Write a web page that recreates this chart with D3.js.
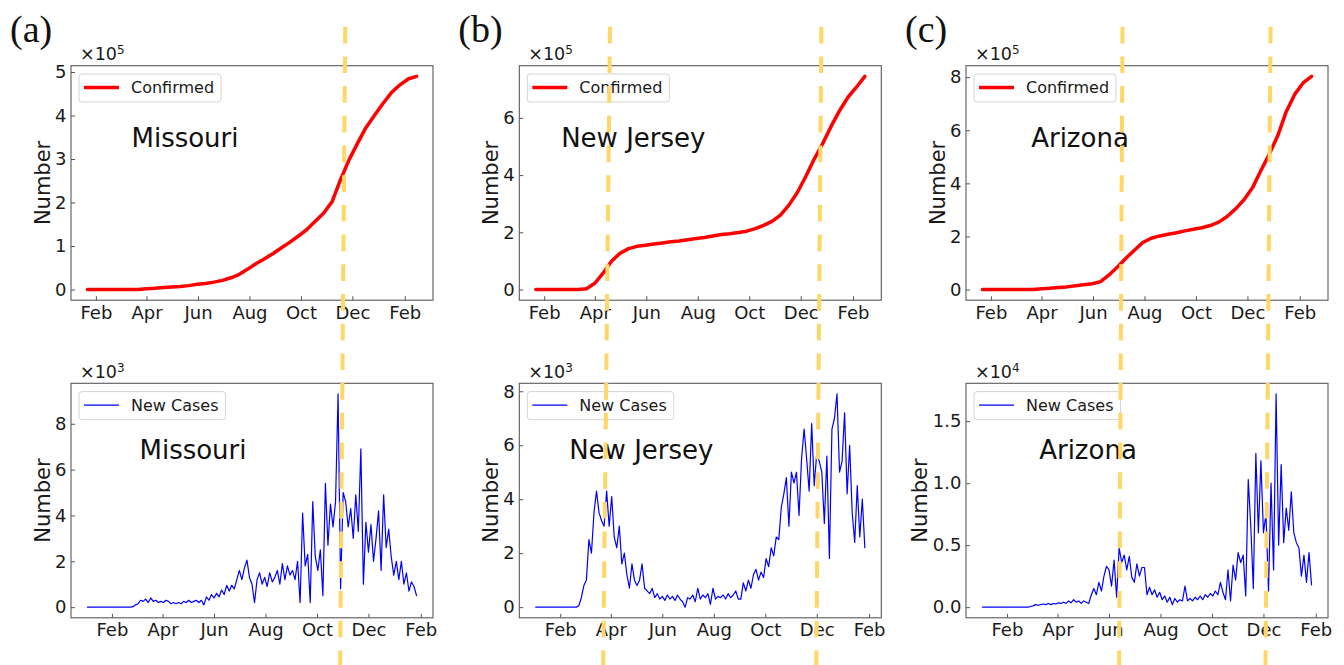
<!DOCTYPE html>
<html>
<head>
<meta charset="utf-8">
<script src="https://cdn.jsdelivr.net/npm/d3@7"></script>
<style>
  body { margin: 0; background: #fff; }
  svg { display: block; }
</style>
</head>
<body>
<div id="chart"></div>
<script>
// States, one per column
const states = ["Missouri", "New Jersey", "Arizona"];
const panelTags = ["(a)", "(b)", "(c)"];

// Confirmed cases (x1e5), every 10 days from 2020-01-22
const confirmedMO = [0, 0, 0, 0, 0, 0, 0, 0.02, 0.03, 0.045,
  0.06, 0.07, 0.09, 0.12, 0.14, 0.17, 0.21, 0.27, 0.35, 0.47,
  0.6, 0.71, 0.83, 0.96, 1.09, 1.23, 1.38, 1.57, 1.76, 2.02,
  2.53, 2.98, 3.36, 3.72, 4.0, 4.27, 4.52, 4.7, 4.84, 4.9];
const confirmedNJ = [0, 0, 0, 0, 0, 0, 0.03, 0.22, 0.58, 1.0,
  1.27, 1.43, 1.51, 1.55, 1.59, 1.63, 1.67, 1.7, 1.74, 1.78,
  1.82, 1.87, 1.92, 1.95, 1.99, 2.04, 2.13, 2.24, 2.38, 2.6,
  2.95, 3.39, 3.95, 4.56, 5.1, 5.7, 6.25, 6.72, 7.07, 7.45];
const confirmedAZ = [0, 0, 0, 0, 0, 0, 0.005, 0.03, 0.05, 0.08,
  0.1, 0.14, 0.18, 0.22, 0.3, 0.55, 0.85, 1.18, 1.48, 1.77,
  1.93, 2.02, 2.08, 2.14, 2.21, 2.27, 2.33, 2.41, 2.54, 2.75,
  3.04, 3.38, 3.83, 4.48, 5.1, 5.8, 6.7, 7.35, 7.78, 8.03];

// New cases, every 3 days from 2020-01-03 (MO, NJ in x1e3; AZ in x1e4)
const newMO = [0, 0, 0, 0, 0, 0, 0, 0, 0, 0,
  0, 0, 0, 0, 0, 0, 0, 0, 0.02, 0.1,
  0.15, 0.3, 0.25, 0.35, 0.2, 0.4, 0.25, 0.3, 0.2, 0.25,
  0.2, 0.3, 0.25, 0.15, 0.2, 0.15, 0.2, 0.15, 0.25, 0.2,
  0.3, 0.2, 0.25, 0.3, 0.2, 0.3, 0.1, 0.45, 0.3, 0.55,
  0.4, 0.6, 0.45, 0.75, 0.55, 0.95, 0.7, 0.95, 0.8, 1.2,
  1.6, 1.2, 1.7, 2.05, 1.3, 1.0, 0.2, 1.2, 1.5, 1.0,
  1.3, 0.9, 1.5, 1.1, 1.3, 1.6, 1.0, 1.9, 1.2, 1.8,
  1.4, 1.6, 1.2, 2.0, 0.2, 4.1, 1.8, 2.3, 0.2, 4.6,
  2.2, 1.6, 2.5, 0.5, 5.4, 2.7, 4.5, 3.5, 4.6, 9.3,
  0.8, 5.0, 4.6, 3.5, 4.3, 3.0, 4.9, 3.3, 6.9, 1.0,
  3.7, 2.4, 3.6, 2.0, 3.0, 4.2, 1.6, 4.9, 2.6, 3.4,
  2.2, 1.4, 2.0, 1.2, 2.0, 1.0, 1.5, 0.7, 1.1, 0.9,
  0.5];
const newNJ = [0, 0, 0, 0, 0, 0, 0, 0, 0, 0,
  0, 0, 0, 0, 0, 0, 0, 0.05, 0.35, 0.8,
  1.0, 2.5, 2.0, 3.5, 4.3, 3.5, 3.2, 3.0, 4.3, 3.0,
  4.1, 2.6, 2.2, 3.0, 1.6, 2.0, 1.2, 0.7, 1.6, 1.0,
  0.8, 1.0, 1.6, 0.7, 0.6, 0.5, 0.7, 0.35, 0.5, 0.3,
  0.4, 0.25, 0.45, 0.3, 0.4, 0.25, 0.45, 0.3, 0.2, 0.0,
  0.35, 0.3, 0.45, 0.2, 0.7, 0.3, 0.45, 0.35, 0.5, 0.1,
  0.7, 0.3, 0.4, 0.35, 0.45, 0.3, 0.5, 0.35, 0.45, 0.6,
  0.3, 0.3, 0.9, 0.6, 1.0, 0.7, 1.2, 1.4, 1.0, 1.3,
  1.1, 1.8, 1.5, 2.2, 1.9, 2.6, 2.5, 3.7, 4.2, 4.8,
  3.0, 5.0, 4.6, 5.0, 3.4, 5.5, 6.6, 5.5, 4.3, 6.8,
  4.5, 5.7, 5.4, 5.0, 3.1, 5.6, 1.8, 6.6, 7.0, 7.9,
  5.0, 5.4, 7.2, 4.2, 6.0, 3.5, 2.4, 4.5, 2.6, 4.0,
  2.2];
const newAZ = [0, 0, 0, 0, 0, 0, 0, 0, 0, 0,
  0, 0, 0, 0, 0, 0, 0, 0, 0, 0.005,
  0.01, 0.02, 0.015, 0.02, 0.025, 0.02, 0.03, 0.02, 0.03, 0.025,
  0.035, 0.03, 0.04, 0.03, 0.05, 0.035, 0.06, 0.04, 0.05, 0.03,
  0.05, 0.04, 0.03, 0.1, 0.15, 0.1, 0.2, 0.13, 0.25, 0.33,
  0.3, 0.17, 0.38, 0.08, 0.48, 0.36, 0.42, 0.3, 0.41, 0.24,
  0.2, 0.35, 0.25, 0.32, 0.32, 0.1, 0.16, 0.1, 0.14, 0.08,
  0.12, 0.06, 0.09, 0.04, 0.08, 0.02, 0.07, 0.04, 0.06, 0.05,
  0.17, 0.05, 0.07, 0.05, 0.08, 0.06, 0.09, 0.06, 0.1, 0.08,
  0.11, 0.09, 0.13, 0.1, 0.2, 0.12, 0.06, 0.3, 0.05, 0.34,
  0.22, 0.44, 0.36, 0.42, 0.09, 1.03, 0.65, 0.15, 1.24, 0.6,
  1.18, 0.6, 0.75, 0.13, 1.0, 0.3, 1.72, 0.5, 1.15, 0.52,
  0.8, 0.62, 0.93, 0.6, 0.52, 0.48, 0.25, 0.42, 0.2, 0.44,
  0.18];

// Axis ticks
const topTicks = [[0, 1, 2, 3, 4, 5], [0, 2, 4, 6], [0, 2, 4, 6, 8]];
const bottomTicks = [[0, 2, 4, 6, 8], [0, 2, 4, 6, 8], [0, 0.5, 1.0, 1.5]];
const topExp = ["5", "5", "5"];
const bottomExp = ["3", "3", "4"];
const monthTicks = ["2020-02-01", "2020-04-01", "2020-06-01", "2020-08-01",
  "2020-10-01", "2020-12-01", "2021-02-01"];

// Marked days (dashed lines), as read on the upper and lower panels
const markTop = [["2020-11-21"], ["2020-04-17", "2020-12-24"], ["2020-07-05", "2020-12-27"]];
const markBottom = [["2020-10-30"], ["2020-03-25", "2020-12-02"], ["2020-06-14", "2020-12-05"]];

const topStart = "2020-01-22", topStep = 10;
const bottomStart = "2020-01-03", bottomStep = 3;

// Layout
const width = 1344, height = 665;
const colLeft = [71, 519.3, 966];
const rowTop = [65.7, 383.3];
const panelW = 362, panelH = 234.5;
const font = "'DejaVu Sans', Verdana, sans-serif";

const parse = d3.utcParse("%Y-%m-%d");

const svg = d3.select("#chart")
  .append("svg")
  .attr("width", width)
  .attr("height", height)
  .style("font-family", font);

function drawPanel(col, row, cfg) {
  const left = colLeft[col], top = rowTop[row];
  const start = parse(cfg.start);
  const data = cfg.values.map((v, i) => ({ date: d3.utcDay.offset(start, i * cfg.step), v }));

  // 5% margins like matplotlib
  const [t0, t1] = d3.extent(data, d => d.date);
  const padT = (t1 - t0) * 0.05;
  const x = d3.scaleUtc()
    .domain([new Date(+t0 - padT), new Date(+t1 + padT)])
    .range([left, left + panelW]);
  const [v0, v1] = d3.extent(data, d => d.v);
  const padV = (v1 - v0) * 0.05;
  const y = d3.scaleLinear()
    .domain([v0 - padV, v1 + padV])
    .range([top + panelH, top]);

  const g = svg.append("g");

  // x axis (ticks inward)
  const gx = g.append("g")
    .attr("transform", `translate(0, ${top + panelH})`)
    .call(d3.axisBottom(x)
      .tickValues(monthTicks.map(parse))
      .tickFormat(d3.utcFormat("%b"))
      .tickSizeInner(-4).tickSizeOuter(0).tickPadding(5.7));
  // y axis
  const gy = g.append("g")
    .attr("transform", `translate(${left}, 0)`)
    .call(d3.axisLeft(y)
      .tickValues(cfg.ticks)
      .tickFormat(cfg.fmt)
      .tickSizeInner(-4).tickSizeOuter(0).tickPadding(4.5));
  [gx, gy].forEach(a => {
    a.attr("font-family", null).attr("font-size", 18);
    a.select(".domain").remove();
    a.selectAll(".tick line").attr("stroke", "#555").attr("stroke-width", 1);
    a.selectAll(".tick text").attr("fill", "#1a1a1a");
  });

  // frame
  g.append("rect")
    .attr("x", left).attr("y", top)
    .attr("width", panelW).attr("height", panelH)
    .attr("fill", "none")
    .attr("stroke", "#5a5a5a")
    .attr("stroke-width", 1.1);

  // y label, placed left of the widest tick label
  const bb = gy.node().getBBox();
  g.append("text")
    .attr("transform", `translate(${left + bb.x - 5.5}, ${top + panelH / 2}) rotate(-90)`)
    .attr("text-anchor", "middle")
    .attr("font-size", 21)
    .attr("fill", "#1a1a1a")
    .text("Number");

  // offset text
  const off = g.append("text")
    .attr("x", left + 9)
    .attr("y", top - 5.7)
    .attr("font-size", 17.5)
    .attr("fill", "#1a1a1a")
    .text("×10");
  off.append("tspan")
    .attr("dy", -6)
    .attr("font-size", 12)
    .text(cfg.exp);

  // series
  g.append("path")
    .datum(data)
    .attr("fill", "none")
    .attr("stroke", cfg.color)
    .attr("stroke-width", cfg.lineWidth)
    .attr("stroke-linejoin", "round")
    .attr("stroke-linecap", "round")
    .attr("d", d3.line().x(d => x(d.date)).y(d => y(d.v)));

  // legend
  const lg = g.append("g").attr("transform", `translate(${left + 8}, ${top + 8.3})`);
  const box = lg.append("rect")
    .attr("height", 28)
    .attr("rx", 3)
    .attr("fill", "#fff")
    .attr("fill-opacity", 0.8)
    .attr("stroke", "#d4d4d4")
    .attr("stroke-width", 1);
  lg.append("line")
    .attr("x1", 5).attr("x2", 40)
    .attr("y1", 13.5).attr("y2", 13.5)
    .attr("stroke", cfg.color)
    .attr("stroke-width", cfg.lineWidth);
  const lt = lg.append("text")
    .attr("x", 52).attr("y", 19.3)
    .attr("font-size", 16)
    .attr("fill", "#1a1a1a")
    .text(cfg.legend);
  box.attr("width", lt.node().getComputedTextLength() + 59);

  // state name
  g.append("text")
    .attr("x", left + cfg.nameDx)
    .attr("y", top + cfg.nameDy)
    .attr("text-anchor", "middle")
    .attr("font-size", 26)
    .attr("fill", "#111")
    .text(states[col]);

  return x;
}

const confirmed = [confirmedMO, confirmedNJ, confirmedAZ];
const newCases = [newMO, newNJ, newAZ];
const topX = [], bottomX = [];

states.forEach((s, c) => {
  topX.push(drawPanel(c, 0, {
    values: confirmed[c], start: topStart, step: topStep,
    ticks: topTicks[c], fmt: d3.format("d"), exp: topExp[c],
    color: "#ff0000", lineWidth: 3.5, legend: "Confirmed",
    nameDx: 114, nameDy: 81
  }));
  bottomX.push(drawPanel(c, 1, {
    values: newCases[c], start: bottomStart, step: bottomStep,
    ticks: bottomTicks[c], fmt: c === 2 ? d3.format(".1f") : d3.format("d"), exp: bottomExp[c],
    color: "#0000ff", lineWidth: 1.2, legend: "New Cases",
    nameDx: 122, nameDy: 75.4
  }));

  svg.append("text")
    .attr("x", colLeft[c] - 61)
    .attr("y", 42)
    .attr("font-family", "'Liberation Serif', 'Times New Roman', serif")
    .attr("font-size", 38)
    .attr("fill", "#111")
    .text(panelTags[c]);
});

// dashed marker lines across both rows
const yTopMid = rowTop[0] + panelH / 2, yBotMid = rowTop[1] + panelH / 2;
const yStart = 26.7, yEnd = height;
states.forEach((s, c) => {
  markTop[c].forEach((dt, j) => {
    const xt = topX[c](parse(dt));
    const xb = bottomX[c](parse(markBottom[c][j]));
    const slope = (xb - xt) / (yBotMid - yTopMid);
    svg.append("line")
      .attr("x1", xt + slope * (yStart - yTopMid)).attr("y1", yStart)
      .attr("x2", xt + slope * (yEnd - yTopMid)).attr("y2", yEnd)
      .attr("stroke", "#ffd766")
      .attr("stroke-width", 4)
      .attr("stroke-dasharray", "16.7,13");
  });
});
</script>
</body>
</html>
